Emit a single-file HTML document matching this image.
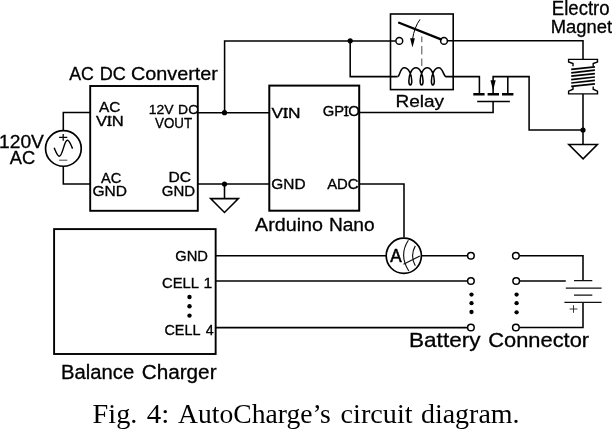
<!DOCTYPE html>
<html><head><meta charset="utf-8"><title>AutoCharge circuit diagram</title>
<style>
html,body{margin:0;padding:0;background:#fff;}
body{width:612px;height:430px;overflow:hidden;font-family:"Liberation Sans",sans-serif;}
svg{display:block;will-change:transform;}
text{fill:#000;}
</style></head><body>
<svg width="612" height="430" viewBox="0 0 612 430">
<rect width="612" height="430" fill="#fff"/>
<g fill="none" stroke="#000" stroke-width="1.95" stroke-linejoin="miter">
<rect x="90.2" y="86" width="107.6" height="124.8" stroke-width="1.9"/>
<rect x="269.3" y="85.6" width="89.9" height="125.1" stroke-width="2.0"/>
<rect x="54.1" y="229.1" width="161.55" height="124.9" stroke-width="1.9"/>
<rect x="390.5" y="14.0" width="62.7" height="75.6" stroke-width="1.6"/>
</g>
<g fill="none" stroke="#000" stroke-width="1.55" stroke-linecap="butt" stroke-linejoin="miter">
<path d="M90.2 112.4H63.3V130.5"/>
<path d="M63.3 166.3V184H90.2"/>
<circle cx="63.4" cy="148.4" r="17.85" stroke-width="1.7"/>
<path d="M197.8 112.7H269.3"/>
<path d="M197.8 184H269.3"/>
<path d="M224.6 112.7V40.9H395.8"/>
<path d="M224.5 184V198.6"/>
<path d="M210.6 198.6H238.4L224.5 212.5Z"/>
<path d="M350.2 40.8V76.6H397.6"/>
<path d="M447.6 40.8H583V59.2"/>
<path d="M446 76.6H479.4V94"/>
<path d="M493.1 94V76.6H529.1V130H583"/>
<path d="M507.8 76.6V94"/>
<path d="M583 94V144.5"/>
<path d="M568.8 144.5H597.4L583.1 158.8Z"/>
<path d="M359.2 112.5H493.1V101.5"/>
<path d="M359.2 184H404V237.6"/>
<path d="M215.7 255.7H386"/>
<path d="M421.6 255.7H467.4"/>
<path d="M215.7 280.9H467.4"/>
<path d="M215.7 327.6H467.4"/>
<path d="M519.4 255.7H583V280.7"/>
<path d="M519.6 280.9H565.8"/>
<path d="M519.4 327.5H583V302.3"/>
</g>
<g fill="#000">
<circle cx="224.5" cy="112.7" r="2.6"/>
<circle cx="224.5" cy="184" r="2.6"/>
<circle cx="350.2" cy="40.8" r="2.6"/>
<circle cx="583" cy="130" r="2.6"/>
<circle cx="189.5" cy="297" r="2.2"/>
<circle cx="189.5" cy="306.3" r="2.2"/>
<circle cx="189.5" cy="315.6" r="2.2"/>
<circle cx="471.5" cy="294.6" r="2.15"/>
<circle cx="471.5" cy="303.2" r="2.15"/>
<circle cx="471.5" cy="312" r="2.15"/>
<circle cx="516.6" cy="294.6" r="2.15"/>
<circle cx="516.6" cy="303.2" r="2.15"/>
<circle cx="516.6" cy="312.3" r="2.15"/>
</g>
<g fill="#fff" stroke="#000" stroke-width="1.5">
<circle cx="399.3" cy="40.9" r="3.4"/>
<circle cx="444" cy="40.9" r="3.4"/>
<circle cx="470.9" cy="255.8" r="3.3"/>
<circle cx="470.9" cy="281" r="3.3"/>
<circle cx="470.9" cy="327.5" r="3.3"/>
<circle cx="515.9" cy="255.8" r="3.3"/>
<circle cx="516.2" cy="281" r="3.3"/>
<circle cx="515.9" cy="327.5" r="3.3"/>
</g>
<circle cx="403.8" cy="255.8" r="17.6" fill="none" stroke="#000" stroke-width="1.7"/>
<g fill="none" stroke="#111" stroke-width="1.15">
<path d="M408.4 240.3Q398.6 255 408.8 271"/>
<path d="M415.3 245.9Q409.8 255.5 415.3 265.7"/>
<path d="M403.5 264.3L419.9 256"/>
</g>
<path d="M399.1 22.8L441 39.4" stroke="#000" stroke-width="2.3" stroke-linecap="round" fill="none"/>
<path d="M420 19.4Q414.2 27.5 412.6 39" stroke="#000" stroke-width="1" fill="none"/>
<path d="M410.1 38.3H414.9L412.5 47.6Z" fill="#000"/>
<path d="M421.8 36.6V42.2M421.8 46V54.6M421.8 58.5V65.9" stroke="#555" stroke-width="1.05" fill="none"/>
<path d="M397.6 76.6C399.8 76.6 400 67.8 404.2 67.8C409.10 67.8 411.75 75.5 411.75 81C411.75 83.6 411.30 85 410.30 85C409.30 85 408.85 83.6 408.85 81C408.85 75.5 411.50 67.8 415.95 67.8C420.40 67.8 423.05 75.5 423.05 81C423.05 83.6 422.60 85 421.60 85C420.60 85 420.15 83.6 420.15 81C420.15 75.5 422.80 67.8 427.25 67.8C431.65 67.8 434.30 75.5 434.30 81C434.30 83.6 433.85 85 432.85 85C431.85 85 431.40 83.6 431.40 81C431.40 75.5 434.05 67.8 438.80 67.8C443 67.8 443.6 76.6 446 76.6" stroke="#000" stroke-width="1.55" fill="none"/>
<g stroke="#000" stroke-width="2.6" fill="none">
<path d="M473.3 94.3H484.6M487.6 94.3H499M502 94.3H513.4"/>
</g>
<path d="M477.2 101.5H509.9" stroke="#000" stroke-width="1.3" fill="none"/>
<path d="M490.5 80.2H495.7L493.1 90.4Z" fill="#000"/>
<g fill="none" stroke="#000" stroke-width="1.4" stroke-linejoin="miter">
<path d="M573 66.2V63.6L568.6 62V59.4H597.5V62L593.2 63.6V66.2"/>
<path d="M573 86.6V89.2L568.6 91.2V93.9H597.5V91.2L593.2 89.2V86.6"/>
</g>
<g fill="none" stroke="#000" stroke-width="1.75">
<path d="M571.2 69.40L594.9 66.80"/>
<path d="M571.2 72.80L594.9 70.20"/>
<path d="M571.2 76.20L594.9 73.60"/>
<path d="M571.2 79.60L594.9 77.00"/>
<path d="M571.2 83.00L594.9 80.40"/>
<path d="M571.2 86.40L594.9 83.80"/>
</g>
<g fill="none" stroke="#111" stroke-width="1.25">
<path d="M574 280.7H592.3M565.8 288.1H601.6M574 295.1H592.3M564.4 302.3H601.6"/>
</g>
<path d="M569.6 309H577.4M573.5 305.2V312.8" stroke="#222" stroke-width="0.9" fill="none"/>
<path d="M59.1 137.3H67.3M63.2 133.9V140.8" stroke="#000" stroke-width="1.25" fill="none"/>
<path d="M59.1 160.2H67.3" stroke="#444" stroke-width="1" fill="none"/>
<path d="M54.2 147.8C56 152 57.3 156.2 59.3 156.2C62.8 156.2 64 140.3 67.4 140.3C69.4 140.3 70.8 144.5 72.6 148.6" stroke="#000" stroke-width="1.45" fill="none"/>
<text x="69.15" y="79.70" font-size="18.60" textLength="24.69" lengthAdjust="spacingAndGlyphs" stroke="#000" stroke-width="0.3" font-family="Liberation Sans, sans-serif">AC</text>
<text x="99.72" y="79.70" font-size="18.60" textLength="26.11" lengthAdjust="spacingAndGlyphs" stroke="#000" stroke-width="0.3" font-family="Liberation Sans, sans-serif">DC</text>
<text x="130.99" y="79.70" font-size="18.60" textLength="86.93" lengthAdjust="spacingAndGlyphs" stroke="#000" stroke-width="0.3" font-family="Liberation Sans, sans-serif">Converter</text>
<text x="-0.94" y="147.80" font-size="17.88" textLength="44.83" lengthAdjust="spacingAndGlyphs" stroke="#000" stroke-width="0.3" font-family="Liberation Sans, sans-serif">120V</text>
<text x="9.74" y="163.70" font-size="17.44" textLength="25.42" lengthAdjust="spacingAndGlyphs" stroke="#000" stroke-width="0.3" font-family="Liberation Sans, sans-serif">AC</text>
<text x="98.97" y="112.30" font-size="14.10" textLength="21.40" lengthAdjust="spacingAndGlyphs" stroke="#000" stroke-width="0.32" font-family="Liberation Sans, sans-serif">AC</text>
<text x="96.06" y="126.00" font-size="13.95" textLength="27.61" lengthAdjust="spacingAndGlyphs" stroke="#000" stroke-width="0.32" font-family="Liberation Sans, sans-serif">VIN</text><path d="M107.09 117.00h4.70M107.09 125.40h4.70" stroke="#000" stroke-width="1.20" fill="none"/>
<text x="148.66" y="114.20" font-size="13.37" textLength="24.79" lengthAdjust="spacingAndGlyphs" stroke="#000" stroke-width="0.32" font-family="Liberation Sans, sans-serif">12V</text>
<text x="178.11" y="114.20" font-size="13.37" textLength="20.08" lengthAdjust="spacingAndGlyphs" stroke="#000" stroke-width="0.32" font-family="Liberation Sans, sans-serif">DC</text>
<text x="155.09" y="128.30" font-size="13.81" textLength="37.01" lengthAdjust="spacingAndGlyphs" stroke="#000" stroke-width="0.32" font-family="Liberation Sans, sans-serif">VOUT</text>
<text x="100.97" y="183.00" font-size="14.10" textLength="20.38" lengthAdjust="spacingAndGlyphs" stroke="#000" stroke-width="0.32" font-family="Liberation Sans, sans-serif">AC</text>
<text x="92.45" y="196.30" font-size="14.39" textLength="34.60" lengthAdjust="spacingAndGlyphs" stroke="#000" stroke-width="0.32" font-family="Liberation Sans, sans-serif">GND</text>
<text x="168.47" y="182.30" font-size="14.10" textLength="22.53" lengthAdjust="spacingAndGlyphs" stroke="#000" stroke-width="0.32" font-family="Liberation Sans, sans-serif">DC</text>
<text x="161.83" y="196.00" font-size="14.39" textLength="33.36" lengthAdjust="spacingAndGlyphs" stroke="#000" stroke-width="0.32" font-family="Liberation Sans, sans-serif">GND</text>
<text x="271.57" y="118.00" font-size="14.24" textLength="28.89" lengthAdjust="spacingAndGlyphs" stroke="#000" stroke-width="0.32" font-family="Liberation Sans, sans-serif">VIN</text><path d="M283.21 108.81h4.80M283.21 117.39h4.80" stroke="#000" stroke-width="1.23" fill="none"/>
<text x="322.87" y="116.30" font-size="14.39" textLength="36.96" lengthAdjust="spacingAndGlyphs" stroke="#000" stroke-width="0.32" font-family="Liberation Sans, sans-serif">GPIO</text><path d="M343.86 107.02h4.85M343.86 115.68h4.85" stroke="#000" stroke-width="1.24" fill="none"/>
<text x="271.31" y="189.40" font-size="14.53" textLength="34.27" lengthAdjust="spacingAndGlyphs" stroke="#000" stroke-width="0.32" font-family="Liberation Sans, sans-serif">GND</text>
<text x="327.16" y="189.40" font-size="14.53" textLength="31.49" lengthAdjust="spacingAndGlyphs" stroke="#000" stroke-width="0.32" font-family="Liberation Sans, sans-serif">ADC</text>
<text x="255.13" y="230.60" font-size="18.31" textLength="67.91" lengthAdjust="spacingAndGlyphs" stroke="#000" stroke-width="0.3" font-family="Liberation Sans, sans-serif">Arduino</text>
<text x="328.91" y="230.60" font-size="18.31" textLength="45.76" lengthAdjust="spacingAndGlyphs" stroke="#000" stroke-width="0.3" font-family="Liberation Sans, sans-serif">Nano</text>
<text x="395.40" y="107.40" font-size="16.86" textLength="48.71" lengthAdjust="spacingAndGlyphs" stroke="#000" stroke-width="0.3" font-family="Liberation Sans, sans-serif">Relay</text>
<text x="551.81" y="15.30" font-size="19.62" textLength="57.83" lengthAdjust="spacingAndGlyphs" stroke="#000" stroke-width="0.3" font-family="Liberation Sans, sans-serif">Electro</text>
<text x="550.72" y="32.60" font-size="18.90" textLength="61.35" lengthAdjust="spacingAndGlyphs" stroke="#000" stroke-width="0.3" font-family="Liberation Sans, sans-serif">Magnet</text>
<text x="175.18" y="260.50" font-size="14.53" textLength="32.77" lengthAdjust="spacingAndGlyphs" stroke="#000" stroke-width="0.32" font-family="Liberation Sans, sans-serif">GND</text>
<text x="162.04" y="287.70" font-size="14.83" textLength="37.02" lengthAdjust="spacingAndGlyphs" stroke="#000" stroke-width="0.32" font-family="Liberation Sans, sans-serif">CELL</text>
<text x="203.48" y="287.70" font-size="14.83" textLength="8.74" lengthAdjust="spacingAndGlyphs" stroke="#000" stroke-width="0.32" font-family="Liberation Sans, sans-serif">1</text>
<text x="164.39" y="334.70" font-size="14.83" textLength="36.12" lengthAdjust="spacingAndGlyphs" stroke="#000" stroke-width="0.32" font-family="Liberation Sans, sans-serif">CELL</text>
<text x="205.71" y="334.70" font-size="14.83" textLength="7.96" lengthAdjust="spacingAndGlyphs" stroke="#000" stroke-width="0.32" font-family="Liberation Sans, sans-serif">4</text>
<text x="61.05" y="378.80" font-size="19.33" textLength="73.16" lengthAdjust="spacingAndGlyphs" stroke="#000" stroke-width="0.3" font-family="Liberation Sans, sans-serif">Balance</text>
<text x="141.68" y="378.80" font-size="19.33" textLength="74.89" lengthAdjust="spacingAndGlyphs" stroke="#000" stroke-width="0.3" font-family="Liberation Sans, sans-serif">Charger</text>
<text x="409.07" y="347.30" font-size="20.78" textLength="71.38" lengthAdjust="spacingAndGlyphs" stroke="#000" stroke-width="0.3" font-family="Liberation Sans, sans-serif">Battery</text>
<text x="488.16" y="347.30" font-size="20.78" textLength="100.96" lengthAdjust="spacingAndGlyphs" stroke="#000" stroke-width="0.3" font-family="Liberation Sans, sans-serif">Connector</text>
<text x="390.31" y="261.50" font-size="17.59" textLength="11.40" lengthAdjust="spacingAndGlyphs" stroke="#000" stroke-width="0.55" font-family="Liberation Sans, sans-serif">A</text>
<text x="92.59" y="422.80" font-size="27.02" textLength="44.77" lengthAdjust="spacingAndGlyphs" font-family="Liberation Serif, serif">Fig.</text>
<text x="146.72" y="422.80" font-size="27.02" textLength="22.49" lengthAdjust="spacingAndGlyphs" font-family="Liberation Serif, serif">4:</text>
<text x="178.09" y="422.80" font-size="27.02" textLength="152.76" lengthAdjust="spacingAndGlyphs" font-family="Liberation Serif, serif">AutoCharge’s</text>
<text x="340.63" y="422.80" font-size="27.02" textLength="71.93" lengthAdjust="spacingAndGlyphs" font-family="Liberation Serif, serif">circuit</text>
<text x="420.95" y="422.80" font-size="27.02" textLength="98.65" lengthAdjust="spacingAndGlyphs" font-family="Liberation Serif, serif">diagram.</text>
</svg>
</body></html>
